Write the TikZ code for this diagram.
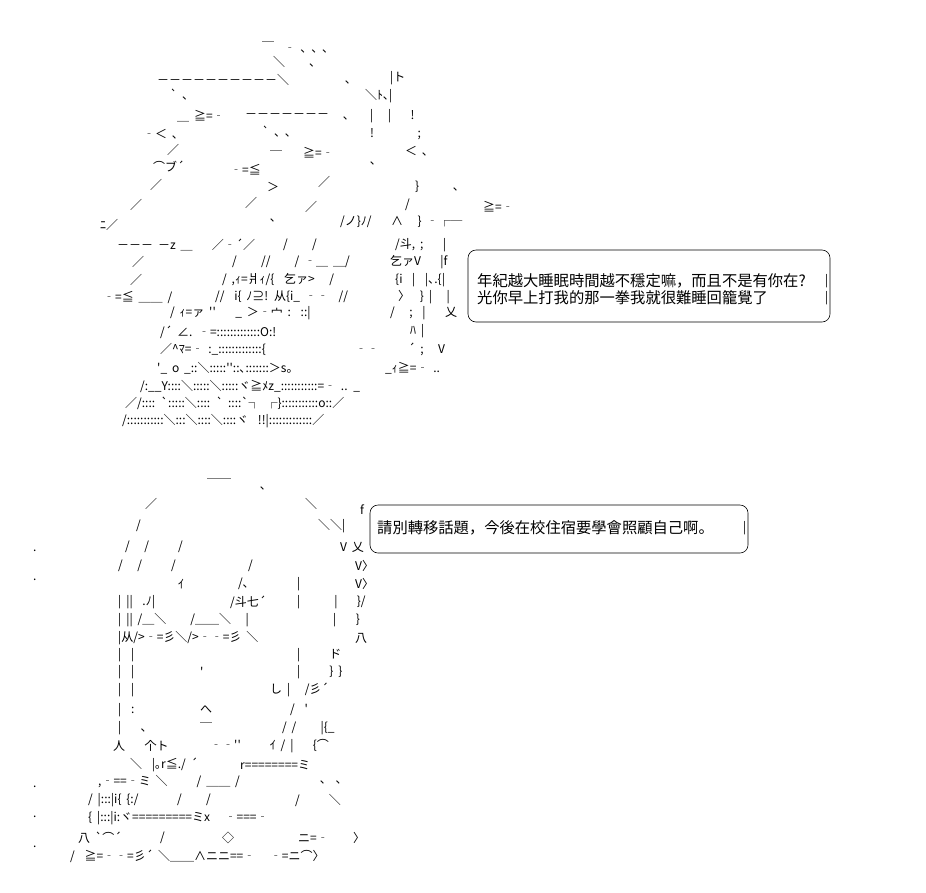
\documentclass[tikz,border=0pt]{standalone}
\usepackage{fontspec}
\newfontfamily\aafont{Noto Sans CJK JP}[WordSpace=1.8]
\usetikzlibrary{positioning}
\tikzset{aa/.style={anchor=west,inner sep=0pt,font=\aafont\fontsize{12}{12}\selectfont}}
\tikzset{say/.style={anchor=west,inner sep=0pt,font=\aafont\fontsize{15.3}{15}\selectfont}}
\tikzset{bubble/.style={draw,rounded corners=8pt,line width=0.6pt}}
\begin{document}
\begin{tikzpicture}[x=1pt,y=-1pt]
  \useasboundingbox (0,0) rectangle (926,892);
  % upper figure
  \node[aa](u1) at (262,48){￣\ \ ‐ ､ ､ ､};
  \node[aa](u2) at (273,62){＼\ \ \ \ \ ､};
  \node[aa](u3) at (157,80){－－－－－－－－－－＼};
  \node[aa](u4) at (345,82){､};
  \node[aa](u5) at (390,78){|ト};
  \node[aa](u6) at (170,95){` ､};
  \node[aa](u7) at (365,96){＼ﾄ､|};
  \node[aa](u8) at (177,116){＿ ≧=‐};
  \node[aa](u9) at (245,116){－－－－－－－};
  \node[aa](u10) at (343,118){､};
  \node[aa](u11) at (370,116){|\ \ \ |\ \ \ \ !};
  \node[aa](u12) at (143,134){‐＜ ､};
  \node[aa](u13) at (262,132){` ､ ､};
  \node[aa](u14) at (370,134){!\ \ \ \ \ \ \ \ \ ;};
  \node[aa](u15) at (167,150){／};
  \node[aa](u16) at (270,156){￣};
  \node[aa](u17) at (303,153){≧=‐};
  \node[aa](u18) at (405,151){＜ ､};
  \node[aa](u19) at (153,166){⌒ブ´};
  \node[aa](u20) at (230,170){‐=≦};
  \node[aa](u21) at (370,163){､};
  \node[aa](u22) at (150,185){／};
  \node[aa](u23) at (267,187){＞};
  \node[aa](u24) at (318,182){／};
  \node[aa](u25) at (415,187){\}\ \ \ \ \ \ \ ､};
  \node[aa](u26) at (130,205){／};
  \node[aa](u27) at (245,203){／};
  \node[aa](u28) at (305,207){／};
  \node[aa](u29) at (405,205){/};
  \node[aa](u30) at (483,207){≧=‐};
  \node[aa](u31) at (100,225){ﾆ／};
  \node[aa](u32) at (270,220){､};
  \node[aa](u33) at (340,222){/ノ\}ﾉ/\ \ \ \ ∧\ \ \ \}\ ‐┌─};
  \node[aa](u34) at (117,245){－－－ －z ＿\ \ \ \ ／‐´／};
  \node[aa](u35) at (283,245){/\ \ \ \ \ /};
  \node[aa](u36) at (395,245){/斗, ;\ \ \ \ |};
  \node[aa](u37) at (132,262){／};
  \node[aa](u37b) at (232,262){/\ \ \ \ \ //\ \ \ \ \ / ‐＿ ＿/};
  \node[aa](u38) at (390,262){乞ァV\ \ \ \ |f};
  \node[aa](u39) at (130,280){／};
  \node[aa](u39b) at (222,280){/ ,ｨ=爿ｨ/\{\ \ 乞ァ>\ \ \ /};
  \node[aa](u40) at (395,280){\{i\ \ |\ \ |､.\{|};
  \node[aa](u41) at (103,297){‐=≦ ＿＿ /};
  \node[aa](u41b) at (215,297){//\ \ i\{ ﾉ⊇! 从\{i\_ ‐‐\ \ //};
  \node[aa](u42) at (398,297){〉\ \ \}\ |\ \ \ |};
  \node[aa](u43) at (170,313){/ ｨ=ァ ''\ \ \ \ \_ ＞‐宀 :\ \ ::|};
  \node[aa](u44) at (390,313){/\ \ \ ;\ \ |\ \ \ \ 乂};
  \node[aa](u45) at (160,332){/´ ∠. ‐=:::::::::::::O:!};
  \node[aa](u46) at (410,331){ﾊ |};
  \node[aa](u47) at (160,349){／\textasciicircum ﾏ=‐ :\_:::::::::::::\{};
  \node[aa](u47b) at (355,349){‐‐\ \ \ \ \ \ ´ ;\ \ \ V};
  \node[aa](u48) at (157,368){'\_ o \_::＼:::::''::､:::::::＞s。};
  \node[aa](u48b) at (385,368){\_ｨ≧=‐ ..};
  \node[aa](u49) at (140,386){/:\_\_Y::::＼:::::＼:::::ヾ≧ﾒz\_:::::::::::=‐ .. \_};
  \node[aa](u50) at (125,403){／/:::: `:::::＼:::: ` ::::`┐ ┌\}:::::::::::o::／};
  \node[aa](u51) at (122,421){/:::::::::::＼:::＼::::＼::::ヾ\ \ !!|:::::::::::::／};
  % upper bubble
  \draw[bubble] (468,250) rectangle (830,322);
  \node[say](say1) at (477,281){年紀越大睡眠時間越不穩定嘛，而且不是有你在?};
  \node[say](say2) at (477,298){光你早上打我的那一拳我就很難睡回籠覺了};
  \node[aa](bar1) at (825,281){|};
  \node[aa](bar2) at (825,298){|};
  % lower figure
  \node[aa](l1) at (207,485){￣￣\ \ \ \ \ \ ､};
  \node[aa](l2) at (145,504){／};
  \node[aa](l2b) at (305,504){＼};
  \node[aa](l3) at (360,510){f};
  \node[aa](l4) at (136,526){/};
  \node[aa](l4b) at (318,526){＼＼|};
  \node[aa](l5) at (125,547){/\ \ \ /\ \ \ \ \ \ /};
  \node[aa](l5b) at (340,547){V 乂};
  \node[aa](l6) at (118,566){/\ \ \ /\ \ \ \ \ \ /};
  \node[aa](l6b) at (248,566){/};
  \node[aa](l6c) at (355,566){V〉};
  \node[aa](l7) at (178,584){ｲ};
  \node[aa](l7b) at (238,584){/､};
  \node[aa](l7c) at (297,584){|};
  \node[aa](l7d) at (355,584){V〉};
  \node[aa](l8) at (118,602){| ||\ \ .ﾉ|};
  \node[aa](l8b) at (230,602){/斗七´};
  \node[aa](l8c) at (297,602){|\ \ \ \ \ \ \ |\ \ \ \ \}/};
  \node[aa](l9) at (118,620){| ||\ /＿＼\ \ \ \ \ /＿＿＼\ \ \ |};
  \node[aa](l9b) at (333,620){|\ \ \ \ \}};
  \node[aa](l10) at (118,638){|从/>‐=彡＼/>‐‐=彡\ ＼};
  \node[aa](l10b) at (355,638){八};
  \node[aa](l11) at (118,655){|\ \ |};
  \node[aa](l11b) at (297,655){|\ \ \ \ \ \ ド};
  \node[aa](l12) at (118,672){|\ \ |};
  \node[aa](l12a) at (200,672){'};
  \node[aa](l12b) at (297,672){|\ \ \ \ \ \ \} \}};
  \node[aa](l13) at (118,690){|\ \ |};
  \node[aa](l13b) at (270,690){し |\ \ \ /彡´};
  \node[aa](l14) at (118,710){|\ \ :};
  \node[aa](l14a) at (200,710){へ};
  \node[aa](l14b) at (290,710){/\ \ '};
  \node[aa](l15) at (118,728){|\ \ \ \ ､};
  \node[aa](l15a) at (200,728){￣};
  \node[aa](l15b) at (282,728){/ /\ \ \ \ \ |\{\_};
  \node[aa](l16) at (113,746){人\ \ \ \ 个ト};
  \node[aa](l16b) at (210,746){‐‐''\ \ \ \ \ \ ｲ / |\ \ \ \ \{⌒};
  \node[aa](l17) at (130,765){＼\ \ |｡r≦./ ´};
  \node[aa](l17b) at (240,765){r========ミ};
  \node[aa](l18) at (98,782){,‐==‐ミ ＼\ \ \ \ \ \ /\ ＿＿ /};
  \node[aa](l18b) at (320,782){､\ \ ､};
  \node[aa](l19) at (88,800){/ |:::|i\{ \{:/\ \ \ \ \ \ \ \ /\ \ \ \ \ /};
  \node[aa](l19b) at (295,800){/\ \ \ \ \ \ ＼};
  \node[aa](l20) at (88,818){\{ |:::|i:ヾ=========ミx\ \ \ ‐===‐};
  \node[aa](l21) at (78,838){八 `⌒´};
  \node[aa](l21b) at (160,838){/};
  \node[aa](l21c) at (222,838){◇};
  \node[aa](l21d) at (298,838){ニ=‐\ \ \ \ \ 〉};
  \node[aa](l22) at (70,856){/\ \ ≧=‐‐=彡´\ ＼＿＿∧ニニ==‐\ \ \ ‐=ニ⌒〉};
  % lower bubble
  \draw[bubble] (370,505) rectangle (748,553);
  \node[say](say3) at (377,528){請別轉移話題，今後在校住宿要學會照顧自己啊。};
  \node[aa](bar3) at (743,528){|};
  % margin dots
  \foreach \y [count=\i] in {551,580,787,817,847}
    \node[aa](dot\i) at (33,\y){.};
\end{tikzpicture}
\end{document}
